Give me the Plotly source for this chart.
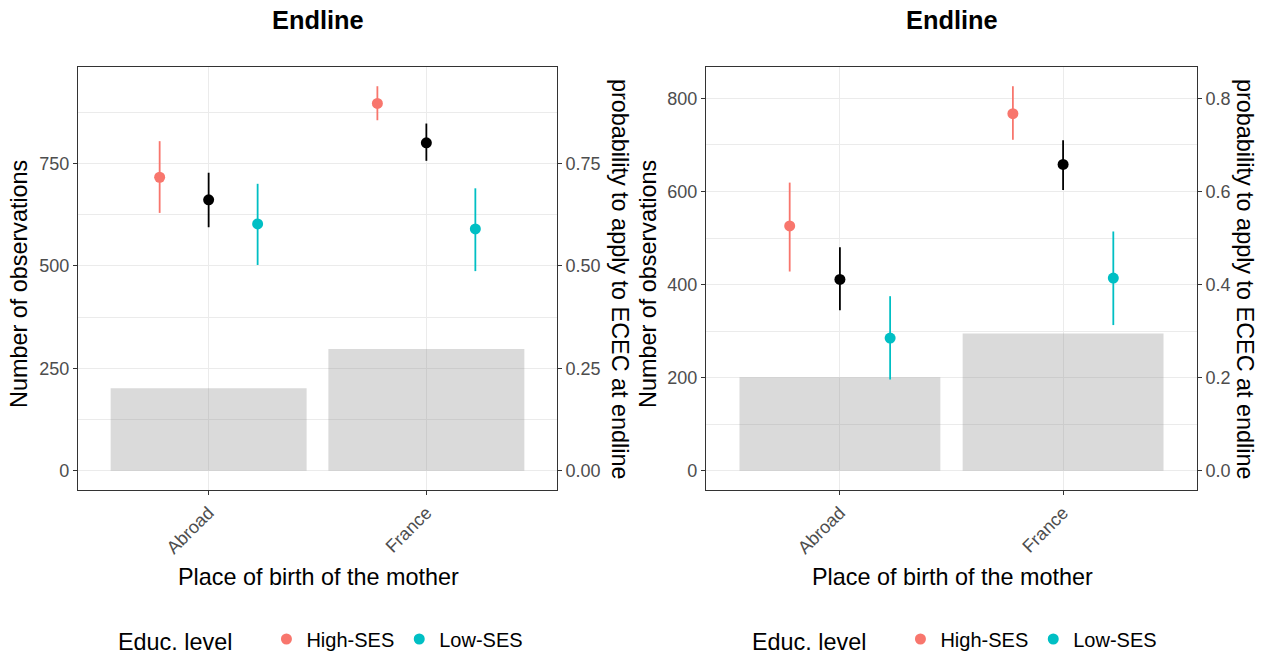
import plotly.graph_objects as go

W, H = 1268, 654

# ---------------- data ----------------
places = ["Abroad", "France"]
educ_levels = ["High-SES", "Low-SES"]
colors = {"High-SES": "#F8766D", "Low-SES": "#00BFC4", "Overall": "#000000"}

# left panel
left_counts = [201, 297]
left_high = [0.716, 0.896]
left_high_lo = [0.629, 0.855]
left_high_hi = [0.804, 0.938]
left_all = [0.661, 0.800]
left_all_lo = [0.594, 0.756]
left_all_hi = [0.727, 0.847]
left_low = [0.602, 0.590]
left_low_lo = [0.502, 0.487]
left_low_hi = [0.700, 0.689]

# right panel
right_counts = [201, 295]
right_high = [0.526, 0.767]
right_high_lo = [0.428, 0.711]
right_high_hi = [0.619, 0.826]
right_all = [0.411, 0.658]
right_all_lo = [0.345, 0.603]
right_all_hi = [0.480, 0.710]
right_low = [0.285, 0.414]
right_low_lo = [0.196, 0.313]
right_low_hi = [0.375, 0.514]

left_ticks = [0, 250, 500, 750]
left_ticks2 = ["0.00", "0.25", "0.50", "0.75"]
right_ticks = [0, 200, 400, 600, 800]
right_ticks2 = ["0.0", "0.2", "0.4", "0.6", "0.8"]

FONT = "Liberation Sans, Arial, sans-serif"
DODGE = 0.225
SCALE = 1000.0
TICK_SIZE = 18
TITLE_SIZE = 23.4
LEG_SIZE = 20


def px(x):
    return x / W


def py(y):
    return 1 - y / H


fig = go.Figure()

panels = [
    dict(counts=left_counts,
         series=[("High-SES", left_high, left_high_lo, left_high_hi, -DODGE),
                 ("Overall", left_all, left_all_lo, left_all_hi, 0.0),
                 ("Low-SES", left_low, left_low_lo, left_low_hi, DODGE)],
         xa="x", ya="y", ya2="y2", legend="legend",
         ticks=left_ticks, ticks2=left_ticks2, minor=125),
    dict(counts=right_counts,
         series=[("High-SES", right_high, right_high_lo, right_high_hi, -DODGE),
                 ("Overall", right_all, right_all_lo, right_all_hi, 0.0),
                 ("Low-SES", right_low, right_low_lo, right_low_hi, DODGE)],
         xa="x2", ya="y3", ya2="y4", legend="legend2",
         ticks=right_ticks, ticks2=right_ticks2, minor=100),
]

xpos = [i + 1 for i in range(len(places))]

for p in panels:
    fig.add_trace(go.Bar(x=xpos, y=p["counts"], width=0.9,
                         marker=dict(color="rgba(127,127,127,0.29)", line=dict(width=0)),
                         xaxis=p["xa"], yaxis=p["ya"], showlegend=False,
                         hoverinfo="skip"))
    for name, vals, lo, hi, off in p["series"]:
        fig.add_trace(go.Scatter(
            x=[v + off for v in xpos], y=vals, mode="markers",
            marker=dict(color=colors[name], size=11),
            error_y=dict(type="data", symmetric=False,
                         array=[h - v for h, v in zip(hi, vals)],
                         arrayminus=[v - l for v, l in zip(vals, lo)],
                         color=colors[name], thickness=1.8, width=0),
            name=name, showlegend=(name != "Overall"), legend=p["legend"],
            xaxis=p["xa"], yaxis=p["ya2"]))


# ranges (5% expansion like ggplot)
def yrange(p):
    mx = max(max(p["counts"]), max(max(s[3]) for s in p["series"]) * SCALE)
    return [-0.05 * mx, 1.05 * mx]


common_x = dict(range=[0.4, 2.6], tickvals=xpos, ticktext=places, tickangle=-45,
                showgrid=True, gridcolor="#EBEBEB", gridwidth=1,
                showline=True, mirror=True, linecolor="#333333", linewidth=1.2,
                ticks="outside", ticklen=4, tickcolor="#333333", zeroline=False,
                tickfont=dict(family=FONT, size=TICK_SIZE, color="#4D4D4D"),
                title=dict(text=""), automargin=False)

doms = [(78, 557), (706, 1197)]
ydom = [py(490), py(67)]

for i, p in enumerate(panels):
    r = yrange(p)
    xkey = "xaxis" if i == 0 else "xaxis2"
    ykey = "yaxis" if i == 0 else "yaxis3"
    y2key = "yaxis2" if i == 0 else "yaxis4"
    xa = dict(common_x)
    xa["domain"] = [px(doms[i][0]), px(doms[i][1])]
    xa["anchor"] = p["ya"]
    fig.layout[xkey] = xa
    fig.layout[ykey] = dict(
        domain=ydom, anchor=p["xa"], range=r, tickvals=p["ticks"],
        ticktext=[str(t) for t in p["ticks"]],
        showgrid=True, gridcolor="#EBEBEB", gridwidth=1,
        minor=dict(dtick=p["minor"], tick0=0, showgrid=True, gridcolor="#EBEBEB",
                   gridwidth=0.6, ticks=""),
        showline=True, mirror=True, linecolor="#333333", linewidth=1.2,
        ticks="outside", ticklen=4, tickcolor="#333333", zeroline=False,
        automargin=False,
        tickfont=dict(family=FONT, size=TICK_SIZE, color="#4D4D4D"))
    fig.layout[y2key] = dict(
        overlaying=p["ya"], side="right", anchor=p["xa"],
        range=[r[0] / SCALE, r[1] / SCALE],
        tickvals=[t / SCALE for t in p["ticks"]], ticktext=p["ticks2"],
        showgrid=False, zeroline=False, showline=False, automargin=False,
        ticks="outside", ticklen=4, tickcolor="#333333",
        tickfont=dict(family=FONT, size=TICK_SIZE, color="#4D4D4D"))

# titles and axis titles as annotations
centers = [318, 952]
annos = []


def anno(text, x, y, size, angle=0):
    return dict(text=text, x=px(x), y=py(y), xref="paper", yref="paper",
                xanchor="center", yanchor="middle", showarrow=False, textangle=angle,
                font=dict(family=FONT, size=size, color="black"))


for cx in centers:
    annos.append(anno("<b>Endline</b>", cx, 20, 25.4))
    annos.append(anno("Place of birth of the mother", cx, 577, TITLE_SIZE))
annos.append(anno("Number of observations", 19, 284, TITLE_SIZE, -90))
annos.append(anno("Number of observations", 648, 284, TITLE_SIZE, -90))
annos.append(anno("probability to apply to ECEC at endline", 620, 279, TITLE_SIZE, 90))
annos.append(anno("probability to apply to ECEC at endline", 1245, 279, TITLE_SIZE, 90))

leg_common = dict(orientation="h", yanchor="middle", xanchor="left",
                  font=dict(family=FONT, size=LEG_SIZE, color="black"),
                  title=dict(text="Educ. level    ", side="left",
                             font=dict(family=FONT, size=TITLE_SIZE, color="black")),
                  bgcolor="rgba(0,0,0,0)", itemwidth=30, traceorder="normal")

fig.update_layout(
    width=W, height=H, margin=dict(l=0, r=0, t=0, b=0, autoexpand=False),
    plot_bgcolor="white", paper_bgcolor="white",
    barmode="overlay", annotations=annos,
    legend=dict(leg_common, x=px(116), y=py(640)),
    legend2=dict(leg_common, x=px(750), y=py(640)),
    font=dict(family=FONT),
)

fig.write_html("out.html", config={"displayModeBar": False},
               post_script="document.body.style.margin='0px';")
